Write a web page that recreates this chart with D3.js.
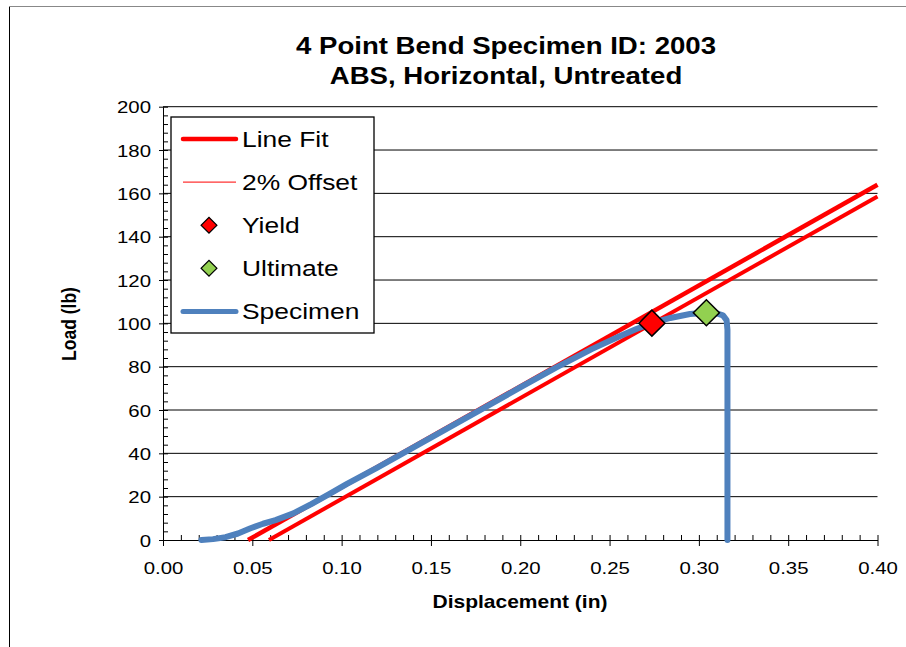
<!DOCTYPE html>
<html>
<head>
<meta charset="utf-8">
<script src="https://cdn.jsdelivr.net/npm/d3@7"></script>
<style>
  html, body { margin: 0; padding: 0; background: #fff; }
  svg { display: block; }
  text { font-family: "Liberation Sans", Arial, sans-serif; fill: #000; }
</style>
</head>
<body>
<svg id="chart" width="906" height="647"></svg>
<script>
// ---- data ----
const titleLines = ["4 Point Bend Specimen ID: 2003", "ABS, Horizontal, Untreated"];
const xLabel = "Displacement (in)";
const yLabel = "Load (lb)";
const xTicks = [0, 0.05, 0.10, 0.15, 0.20, 0.25, 0.30, 0.35, 0.40];
const yTicks = [0, 20, 40, 60, 80, 100, 120, 140, 160, 180, 200];
const legendLabels = ["Line Fit", "2% Offset", "Yield", "Ultimate", "Specimen"];

const lineFit = [[0.0476, 0], [0.40, 164.0]];
const offsetLine = [[0.0593, 0], [0.40, 158.6]];
const yieldPoint = [0.2737, 100.1];
const ultimatePoint = [0.3042, 104.9];
const specimenX = [0.0215, 0.028, 0.035, 0.042, 0.049, 0.056, 0.063, 0.073, 0.083, 0.093,
                   0.103, 0.12, 0.14, 0.16, 0.18, 0.20, 0.22, 0.24, 0.255, 0.265,
                   0.2737, 0.284, 0.295, 0.3042, 0.310, 0.3135, 0.3155, 0.316, 0.316];
const specimenY = [0, 0.4, 1.3, 3.0, 5.4, 7.5, 9.2, 12.3, 16.6, 21.2,
                   25.9, 33.4, 42.6, 51.9, 61.1, 70.4, 79.6, 88.1, 93.8, 97.4,
                   100.1, 102.5, 104.3, 104.9, 104.6, 103.7, 101.5, 97, 0];

// ---- layout ----
const svg = d3.select("#chart");
const SX = 1.2; // horizontal stretch of the text in the reference
const plotL = 163, plotR = 877.5, plotT = 106.7, plotB = 540;
const x = d3.scaleLinear().domain([0, 0.40]).range([plotL, plotR]);
const y = d3.scaleLinear().domain([0, 200]).range([plotB, plotT]);

// outer chart border
svg.append("line").attr("x1", 9.5).attr("x2", 9.5).attr("y1", 6).attr("y2", 647)
  .attr("stroke", "#000").attr("stroke-width", 1);
svg.append("line").attr("x1", 9).attr("x2", 906).attr("y1", 6.5).attr("y2", 6.5)
  .attr("stroke", "#888").attr("stroke-width", 1);

// title
titleLines.forEach((t, i) => {
  svg.append("text")
    .attr("transform", `translate(506,${54 + i * 30}) scale(${SX},1)`)
    .attr("text-anchor", "middle")
    .attr("font-size", 23).attr("font-weight", "bold")
    .text(t);
});

// gridlines
svg.append("g").selectAll("line").data(yTicks.filter(d => d > 0)).join("line")
  .attr("x1", plotL).attr("x2", plotR)
  .attr("y1", d => y(d)).attr("y2", d => y(d))
  .attr("stroke", "#000").attr("stroke-width", 1);

// minor ticks
const yMinor = d3.range(0, 201, 4).filter(v => v % 20 !== 0);
const xMinor = d3.range(0, 41, 1).map(v => v / 100).filter((v, i) => i % 5 !== 0);

const yAxisMinor = d3.axisRight(y).tickValues(yMinor).tickSize(5).tickFormat("");
svg.append("g").attr("transform", `translate(${plotL},0)`).call(yAxisMinor)
  .call(g => g.select(".domain").remove())
  .call(g => g.selectAll("line").attr("stroke", "#000"));
const xAxisMinor = d3.axisTop(x).tickValues(xMinor).tickSize(5).tickFormat("");
svg.append("g").attr("transform", `translate(0,${plotB})`).call(xAxisMinor)
  .call(g => g.select(".domain").remove())
  .call(g => g.selectAll("line").attr("stroke", "#000"));

// major axes
const yAxis = d3.axisLeft(y).tickValues(yTicks).tickSize(4).tickSizeOuter(0).tickFormat(d3.format("d"));
const gy = svg.append("g").attr("transform", `translate(${plotL},0)`).call(yAxis);
gy.select(".domain").attr("stroke", "#000");
gy.selectAll(".tick line").attr("x2", -4).attr("x1", 5).attr("stroke", "#000");
gy.selectAll(".tick text").attr("x", 0).attr("dy", null)
  .attr("transform", `translate(-12,6) scale(${SX},1)`)
  .attr("font-size", 17).attr("font-family", "Liberation Sans, Arial, sans-serif").attr("fill", "#000");

const xAxis = d3.axisBottom(x).tickValues(xTicks).tickSize(6).tickSizeOuter(0).tickFormat(d3.format(".2f"));
const gx = svg.append("g").attr("transform", `translate(0,${plotB})`).call(xAxis);
gx.select(".domain").attr("stroke", "#000");
gx.selectAll(".tick line").attr("y1", -5).attr("y2", 6).attr("stroke", "#000");
gx.selectAll(".tick text").attr("y", 0).attr("dy", null)
  .attr("transform", `translate(0,34) scale(${SX},1)`)
  .attr("font-size", 17).attr("font-family", "Liberation Sans, Arial, sans-serif").attr("fill", "#000");

// axis titles
svg.append("text")
  .attr("transform", `translate(520,608) scale(${SX},1)`)
  .attr("text-anchor", "middle").attr("font-size", 17.5).attr("font-weight", "bold")
  .text(xLabel);
svg.append("text")
  .attr("transform", `translate(76,324) rotate(-90) scale(1,${SX})`)
  .attr("text-anchor", "middle").attr("font-size", 17.5).attr("font-weight", "bold")
  .text(yLabel);

// series
const line = d3.line().x(d => x(d[0])).y(d => y(d[1]));
svg.append("path").datum(offsetLine).attr("d", line)
  .attr("fill", "none").attr("stroke", "#FF0000").attr("stroke-width", 4);
svg.append("path").datum(lineFit).attr("d", line)
  .attr("fill", "none").attr("stroke", "#FF0000").attr("stroke-width", 4.5);

const specimen = specimenX.map((v, i) => [v, specimenY[i]]);
svg.append("path").datum(specimen).attr("d", line)
  .attr("fill", "none").attr("stroke", "#4F81BD").attr("stroke-width", 6)
  .attr("stroke-linejoin", "round").attr("stroke-linecap", "round");

const diamond = (size) => d3.symbol(d3.symbolSquare, size)();
svg.append("path").attr("d", diamond(340))
  .attr("transform", `translate(${x(yieldPoint[0])},${y(yieldPoint[1])}) rotate(45)`)
  .attr("fill", "#FF0000").attr("stroke", "#000").attr("stroke-width", 1.5);
svg.append("path").attr("d", diamond(340))
  .attr("transform", `translate(${x(ultimatePoint[0])},${y(ultimatePoint[1])}) rotate(45)`)
  .attr("fill", "#92D050").attr("stroke", "#000").attr("stroke-width", 1.5);

// legend
const lg = svg.append("g");
lg.append("rect").attr("x", 171).attr("y", 117).attr("width", 203).attr("height", 216)
  .attr("fill", "#fff").attr("stroke", "#000").attr("stroke-width", 1.3);
const rowY = i => 139 + i * 43.1;
lg.append("line").attr("x1", 183).attr("x2", 236).attr("y1", rowY(0)).attr("y2", rowY(0))
  .attr("stroke", "#FF0000").attr("stroke-width", 4.5).attr("stroke-linecap", "round");
lg.append("line").attr("x1", 183).attr("x2", 236).attr("y1", rowY(1)).attr("y2", rowY(1))
  .attr("stroke", "#FF0000").attr("stroke-width", 1);
lg.append("path").attr("d", diamond(125))
  .attr("transform", `translate(209,${rowY(2)}) rotate(45)`)
  .attr("fill", "#FF0000").attr("stroke", "#000").attr("stroke-width", 1.2);
lg.append("path").attr("d", diamond(125))
  .attr("transform", `translate(209,${rowY(3)}) rotate(45)`)
  .attr("fill", "#92D050").attr("stroke", "#000").attr("stroke-width", 1.2);
lg.append("line").attr("x1", 183).attr("x2", 236).attr("y1", rowY(4)).attr("y2", rowY(4))
  .attr("stroke", "#4F81BD").attr("stroke-width", 5).attr("stroke-linecap", "round");
legendLabels.forEach((t, i) => {
  lg.append("text")
    .attr("transform", `translate(242,${rowY(i) + 8}) scale(${SX},1)`)
    .attr("font-size", 22)
    .text(t);
});
</script>
</body>
</html>
